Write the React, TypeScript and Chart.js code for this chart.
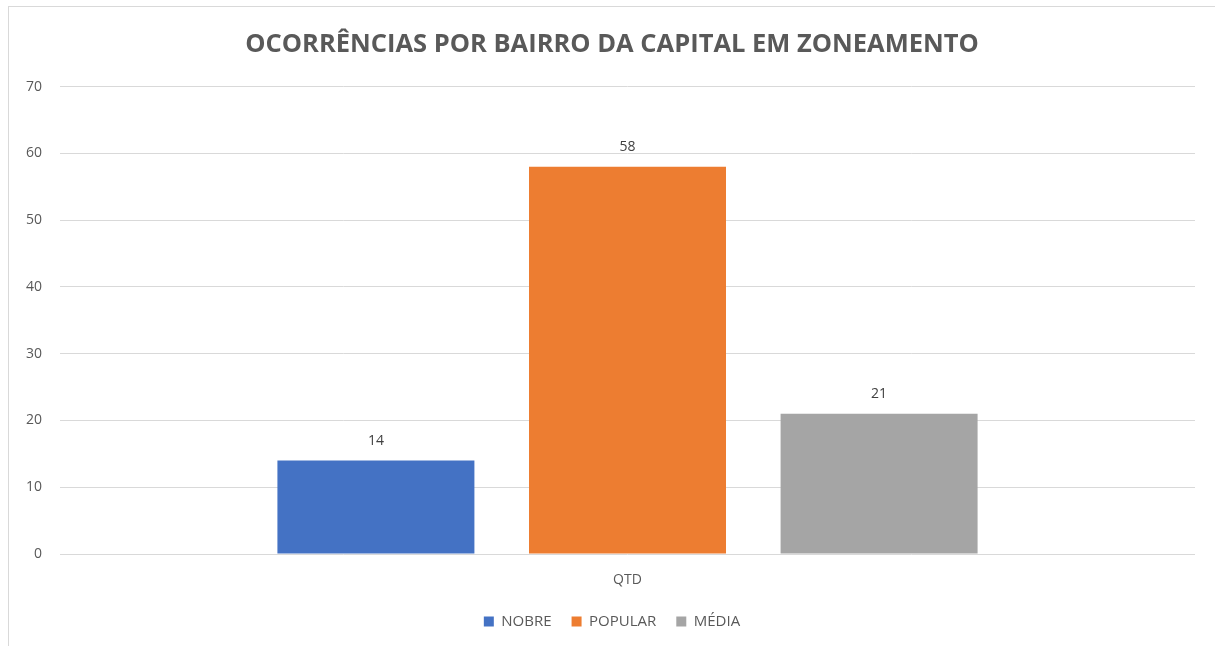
import React, { useEffect, useRef } from "react";
import { Chart, registerables } from "chart.js";

Chart.register(...registerables);

const TITLE = "OCORRÊNCIAS POR BAIRRO DA CAPITAL EM ZONEAMENTO";
const categories = ["QTD"];
const seriesNames = ["NOBRE", "POPULAR", "MÉDIA"];
const nobre = [14];
const popular = [58];
const media = [21];
const seriesColors = ["#4472C4", "#ED7D31", "#A5A5A5"];
const yTicks = [0, 10, 20, 30, 40, 50, 60, 70];

const FONT = "'Open Sans', 'Liberation Sans', sans-serif";

const valueLabels = {
  id: "valueLabels",
  afterDatasetsDraw(chart: any) {
    const ctx = chart.ctx;
    ctx.save();
    ctx.font = `14px ${FONT}`;
    ctx.fillStyle = "#404040";
    ctx.textAlign = "center";
    ctx.textBaseline = "middle";
    chart.data.datasets.forEach((ds: any, i: number) => {
      const meta = chart.getDatasetMeta(i);
      meta.data.forEach((bar: any, j: number) => {
        ctx.fillText(String(ds.data[j]), bar.x, bar.y - 20);
      });
    });
    ctx.restore();
  },
};

export default function App() {
  const ref = useRef<HTMLCanvasElement>(null);
  useEffect(() => {
    const seriesData = [nobre, popular, media];
    const chart = new Chart(ref.current!, {
      type: "bar",
      data: {
        labels: categories,
        datasets: seriesNames.map((n, i) => ({
          label: n,
          data: seriesData[i],
          backgroundColor: seriesColors[i],
          borderWidth: 0,
          categoryPercentage: 0.665,
          barPercentage: 0.783,
        })),
      },
      options: {
        animation: false,
        responsive: false,
        maintainAspectRatio: false,
        layout: { padding: { left: 10, right: 10, top: 0, bottom: 7 } },
        plugins: {
          title: {
            display: true,
            text: TITLE,
            color: "#595959",
            font: { family: FONT, size: 25.5, weight: "bold" },
            padding: { top: 22, bottom: 27 },
          },
          legend: {
            position: "bottom",
            labels: {
              boxWidth: 10,
              boxHeight: 10,
              padding: 20,
              color: "#595959",
              font: { family: FONT, size: 15 },
            },
          },
          tooltip: { enabled: false },
        },
        scales: {
          x: {
            grid: { display: false, drawTicks: false },
            border: { display: false },
            ticks: { color: "#595959", font: { family: FONT, size: 14 }, padding: 18 },
            afterFit(scale: any) {
              scale.height = 40;
            },
          },
          y: {
            min: 0,
            max: 70,
            afterBuildTicks(scale: any) {
              scale.ticks = yTicks.map((v) => ({ value: v }));
            },
            grid: { color: "#D9D9D9", drawTicks: false, lineWidth: 1 },
            border: { display: false },
            ticks: { color: "#595959", font: { family: FONT, size: 14 }, padding: 18 },
            afterFit(scale: any) {
              scale.width = 41;
            },
          },
          yRight: {
            position: "right",
            display: true,
            min: 0,
            max: 70,
            grid: { display: false, drawTicks: false },
            border: { display: false },
            ticks: { display: false },
            afterFit(scale: any) {
              scale.width = 10;
            },
          },
        },
      },
      plugins: [valueLabels],
    });
    return () => chart.destroy();
  }, []);
  return (
    <div
      style={{
        position: "absolute",
        left: 8,
        top: 6,
        width: 1207,
        height: 640,
        borderLeft: "1px solid #D9D9D9",
        borderTop: "1px solid #D9D9D9",
        background: "#fff",
      }}
    >
      <canvas ref={ref} width={1206} height={639} style={{ display: "block" }} />
    </div>
  );
}
